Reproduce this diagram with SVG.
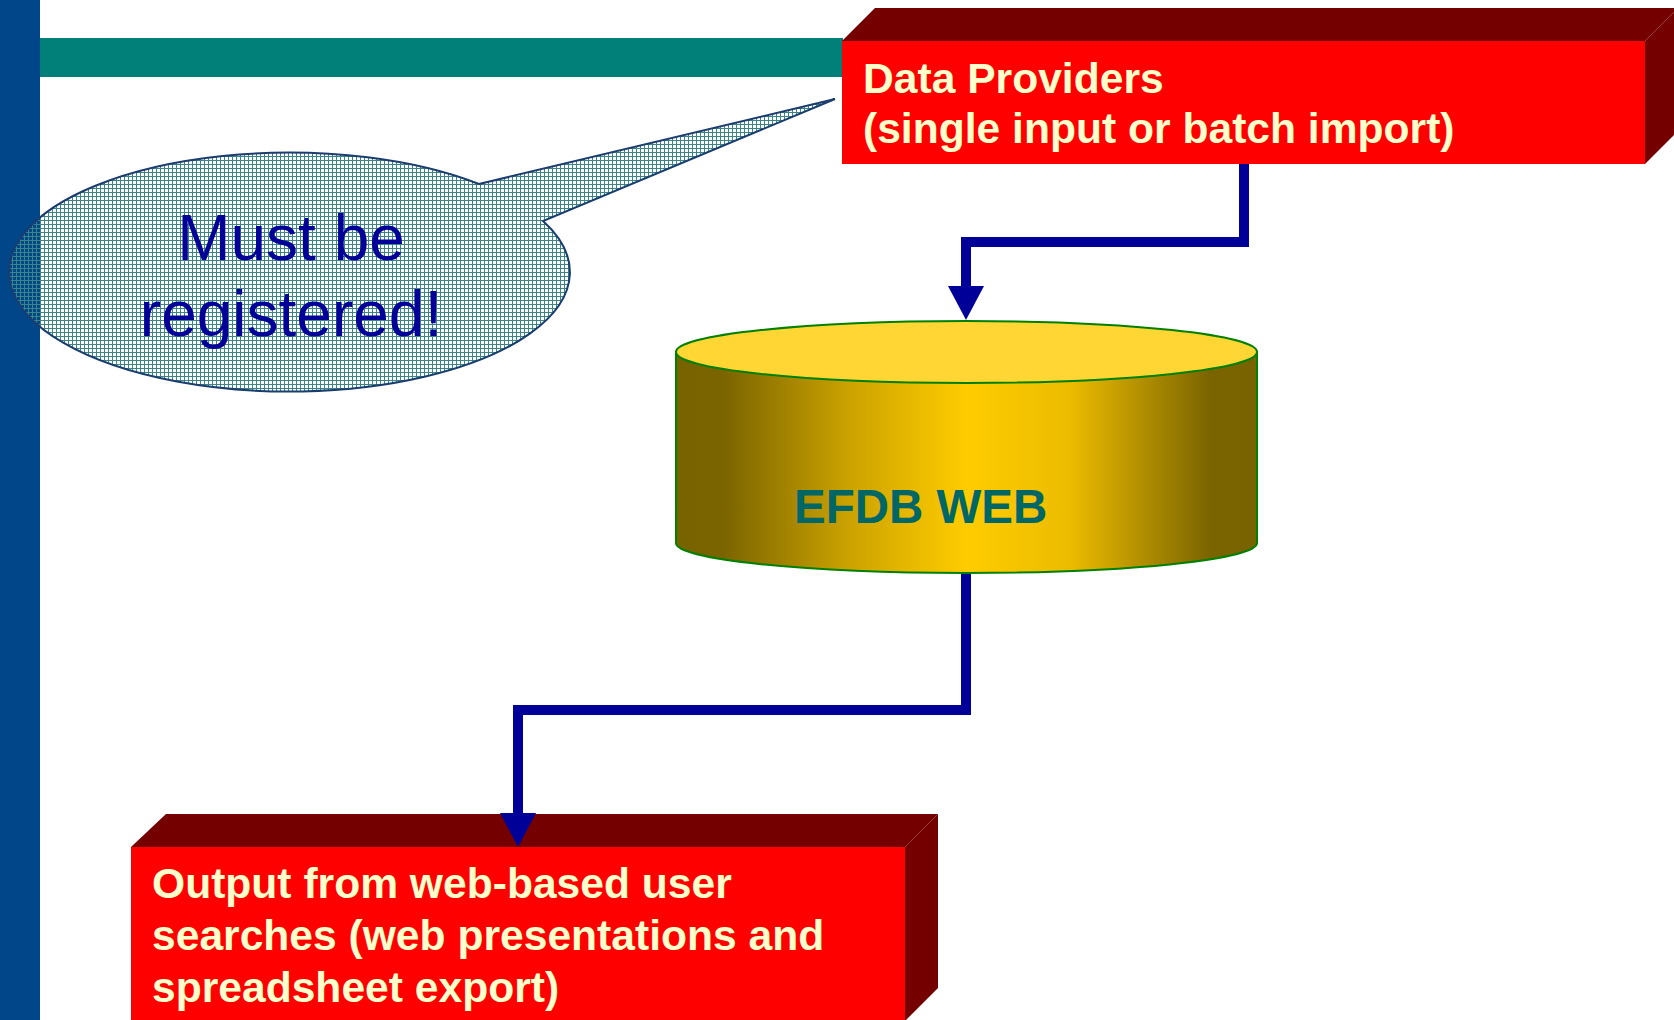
<svg xmlns="http://www.w3.org/2000/svg" width="1674" height="1020" viewBox="0 0 1674 1020">
<defs>
<style>
.boxtxt{font-family:"Liberation Sans",Arial,sans-serif;font-weight:bold;font-size:42.6px;fill:#FFFFCC}
.front{fill:#FF0000}
.dark{fill:#750000}
.conn{fill:none;stroke:#000099;stroke-width:10}
.call{font-family:"Liberation Sans",Arial,sans-serif;font-size:64px;fill:#000099;text-anchor:middle}
</style>
<pattern id="hatch" width="4" height="4" patternUnits="userSpaceOnUse">
<rect x="0" y="0" width="4" height="1" fill="#3A8585"/>
<rect x="0" y="0" width="1" height="4" fill="#3A8585"/>
</pattern>
<linearGradient id="cyl" x1="0" y1="0" x2="1" y2="0">
<stop offset="0" stop-color="#776300"/>
<stop offset="0.08" stop-color="#7A6400"/>
<stop offset="0.3" stop-color="#CCA300"/>
<stop offset="0.5" stop-color="#FFCC00"/>
<stop offset="0.68" stop-color="#EBBB00"/>
<stop offset="0.92" stop-color="#7A6400"/>
<stop offset="1" stop-color="#776300"/>
</linearGradient>
<marker id="arr" markerUnits="userSpaceOnUse" markerWidth="36" markerHeight="36" refX="0" refY="18" orient="auto" viewBox="0 0 36 36">
<path d="M0 0 L34 18 L0 36 Z" fill="#000099"/>
</marker>
</defs>
<rect x="0" y="0" width="1674" height="1020" fill="#FFFFFF"/>
<g id="background">
<rect x="0" y="0" width="40" height="1020" fill="#02468A"/>
<rect x="40" y="38" width="803" height="39" fill="#008078"/>
</g>
<g id="callout">
<path d="M479 184 L835 99 L543 221 A280.5 119.5 0 1 1 479 184 Z" fill="url(#hatch)" stroke="#1A3C6E" stroke-width="2"/>
<text class="call" x="291" y="260">Must be</text>
<text class="call" x="291" y="336">registered!</text>
</g>
<g id="data-providers">
<polygon class="dark" points="842,41 875,8 1678,8 1645,41"/>
<polygon class="dark" points="1645,41 1678,8 1678,131 1645,164"/>
<rect class="front" x="842" y="41" width="803" height="123"/>
<text class="boxtxt" x="863" y="93">Data Providers</text>
<text class="boxtxt" x="863" y="143">(single input or batch import)</text>
</g>
<g id="efdb-web">
<path d="M676 352 V543 A290.5 30 0 0 0 1257 543 V352 Z" fill="url(#cyl)" stroke="#008000" stroke-width="2"/>
<ellipse cx="966.5" cy="352" rx="290.5" ry="31" fill="#FFD633" stroke="#008000" stroke-width="2"/>
<text x="794" y="523" font-family="Liberation Sans, Arial, sans-serif" font-weight="bold" font-size="47.5" fill="#006666">EFDB WEB</text>
</g>
<g id="output">
<polygon class="dark" points="131,847 166,814 938,814 905,847"/>
<polygon class="dark" points="905,847 938,814 938,988 905,1021"/>
<rect class="front" x="131" y="847" width="774" height="180"/>
<text class="boxtxt" x="152" y="898">Output from web-based user</text>
<text class="boxtxt" x="152" y="950">searches (web presentations and</text>
<text class="boxtxt" x="152" y="1002">spreadsheet export)</text>
</g>
<g id="connectors">
<path class="conn" d="M1244 164 V242 H966 V286" marker-end="url(#arr)"/>
<path class="conn" d="M966 574 V710 H518 V813" marker-end="url(#arr)"/>
</g>
</svg>
